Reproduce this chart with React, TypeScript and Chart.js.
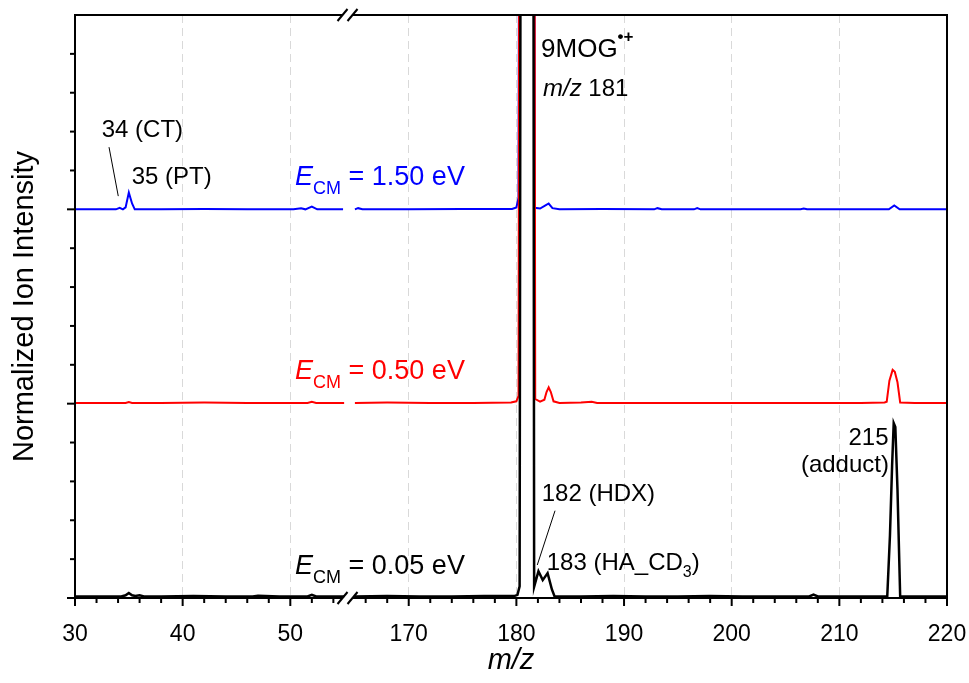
import React, { useEffect, useRef } from "react";
import { Chart, registerables } from "chart.js";

Chart.register(...registerables);

const FONT = '"Liberation Sans", Arial, Helvetica, sans-serif';

// broken x axis: 30–55 | 165–220
const BREAK_LO = 55;
const BREAK_HI = 165;
const BREAK_GAP = 1;
const X_MIN = 30;
const X_MAX = 220;
const Y_MIN = 0;
const Y_MAX = 15;

const X_MAJOR = [30, 40, 50, 170, 180, 190, 200, 210, 220];
const X_MINOR = [32, 34, 36, 38, 42, 44, 46, 48, 52, 54, 166, 168, 172, 174, 176, 178, 182, 184, 186, 188, 192, 194, 196, 198, 202, 204, 206, 208, 212, 214, 216, 218];
const Y_MAJOR = [0, 5, 10];
const Y_MINOR = [1, 2, 3, 4, 6, 7, 8, 9, 11, 12, 13, 14];

const ENERGIES = ["0.05", "0.50", "1.50"];
const OFFSETS = [0, 5, 10];
const COLORS = ["#000000", "#ff0000", "#0000ff"];
const WIDTHS = [2.5, 2, 2];

// E_CM = 0.05 eV
const MZ_005 = [30, 32, 34.3, 34.7, 35.0, 35.3, 35.6, 36.0, 36.4, 38, 41, 44, 46.5, 47, 49, 51.6, 52.0, 52.4, 55, 165, 168, 171, 174, 177, 179.8, 180.1, 180.3, 180.5, 181.5, 181.65, 182.05, 182.45, 182.9, 183.3, 183.55, 186, 189, 192, 195, 198, 201, 204, 207.2, 207.6, 208.0, 211, 214.45, 214.7, 214.9, 215.05, 215.2, 215.4, 215.65, 217, 220];
const INT_005 = [0.04, 0.04, 0.04, 0.07, 0.13, 0.07, 0.05, 0.07, 0.04, 0.04, 0.05, 0.04, 0.04, 0.06, 0.04, 0.04, 0.08, 0.04, 0.04, 0.04, 0.05, 0.04, 0.04, 0.05, 0.05, 0.08, 0.3, 40, 40, 0.29, 0.69, 0.46, 0.64, 0.22, 0.04, 0.04, 0.05, 0.04, 0.04, 0.05, 0.04, 0.04, 0.04, 0.09, 0.04, 0.04, 0.04, 1.6, 3.4, 4.5, 4.4, 2.8, 0.04, 0.04, 0.04];

// E_CM = 0.50 eV
const MZ_050 = [30, 33, 34.7, 35.0, 35.3, 38, 42, 46, 49, 51.6, 52.0, 52.4, 55, 165, 168, 172, 176, 179.5, 180.0, 180.2, 180.4, 181.55, 181.75, 182.2, 182.6, 182.8, 183.0, 183.2, 183.45, 184, 186, 187, 187.5, 189, 193, 197, 201, 205, 209, 212, 214.2, 214.4, 214.65, 214.95, 215.15, 215.4, 215.65, 217, 220];
const INT_050 = [0.02, 0.02, 0.02, 0.04, 0.02, 0.02, 0.03, 0.02, 0.02, 0.02, 0.05, 0.02, 0.02, 0.02, 0.03, 0.02, 0.02, 0.03, 0.06, 0.2, 40, 40, 0.12, 0.05, 0.1, 0.3, 0.42, 0.3, 0.06, 0.02, 0.03, 0.05, 0.02, 0.02, 0.02, 0.02, 0.02, 0.02, 0.02, 0.02, 0.03, 0.05, 0.59, 0.87, 0.82, 0.55, 0.03, 0.02, 0.02];

// E_CM = 1.50 eV
const MZ_150 = [30, 33.8, 34.15, 34.45, 34.7, 35.0, 35.3, 35.55, 38, 42, 46, 50.3, 51.0, 51.4, 52.0, 52.5, 54.9, 165, 165.3, 165.7, 170, 175, 179.6, 180.0, 180.2, 180.45, 181.55, 181.7, 182.2, 182.7, 183.0, 183.35, 184, 188, 192.8, 193.1, 193.5, 196.5, 196.8, 197.1, 201, 206.4, 206.7, 207.0, 211, 214.6, 215.1, 215.6, 220];
const INT_150 = [0, 0, 0.04, 0, 0.05, 0.43, 0.15, 0, 0, 0.01, 0, 0, 0.03, 0, 0.07, 0, 0, 0, 0.03, 0, 0, 0.01, 0.01, 0.05, 0.3, 40, 40, 0.04, 0.02, 0.1, 0.15, 0.03, 0, 0.01, 0, 0.03, 0, 0, 0.03, 0, 0, 0, 0.02, 0, 0, 0, 0.1, 0, 0];

const SERIES_MZ = [MZ_005, MZ_050, MZ_150];
const SERIES_INT = [INT_005, INT_050, INT_150];

// annotations (data coordinates: m/z, stacked intensity)
type Part = { t: string; size: number; italic?: boolean; bold?: boolean; dy?: number };
type Label = { mz: number; v: number; align?: "left" | "right"; color?: string; parts: Part[] };

const LABELS: Label[] = [
  { mz: 182.29, v: 13.92, parts: [{ t: "9MOG", size: 26 }, { t: "•+", size: 17, bold: true, dy: -15 }] },
  { mz: 182.47, v: 12.92, parts: [{ t: "m/z", size: 24, italic: true }, { t: " 181", size: 24 }] },
  { mz: 32.48, v: 11.86, parts: [{ t: "34 (CT)", size: 24 }] },
  { mz: 35.27, v: 10.64, parts: [{ t: "35 (PT)", size: 24 }] },
  { mz: 182.35, v: 2.5, parts: [{ t: "182 (HDX)", size: 24 }] },
  { mz: 182.82, v: 0.72, parts: [{ t: "183 (HA_CD", size: 24 }, { t: "3", size: 16, dy: 7 }, { t: ")", size: 24 }] },
  { mz: 214.57, v: 3.94, align: "right", parts: [{ t: "215", size: 24 }] },
  { mz: 214.61, v: 3.24, align: "right", parts: [{ t: "(adduct)", size: 24 }] },
];
const E_LABEL_MZ = 50.44;
const E_LABEL_DV = 0.63;

const LEADERS = [
  { from: [33.16, 11.6], to: [34.02, 10.34] },
  { from: [183.59, 2.246], to: [181.94, 0.849] },
];

const tx = (mz: number) => (mz <= BREAK_LO ? mz : mz - (BREAK_HI - BREAK_LO) + BREAK_GAP);

function buildData(mzs: number[], vals: number[], offset: number) {
  const out: { x: number; y: number | null }[] = [];
  for (let i = 0; i < mzs.length; i++) {
    if (i > 0 && mzs[i - 1] <= BREAK_LO && mzs[i] >= BREAK_HI) {
      out.push({ x: tx(BREAK_LO) + BREAK_GAP / 2, y: null });
    }
    out.push({ x: tx(mzs[i]), y: vals[i] + offset });
  }
  return out;
}

function fontOf(p: Part) {
  return `${p.italic ? "italic " : ""}${p.bold ? "bold " : ""}${p.size}px ${FONT}`;
}

function drawRich(ctx: CanvasRenderingContext2D, x: number, y: number, parts: Part[], align: string, color: string) {
  const widths = parts.map((p) => {
    ctx.font = fontOf(p);
    return ctx.measureText(p.t).width;
  });
  const total = widths.reduce((a, b) => a + b, 0);
  let cx = align === "right" ? x - total : x;
  ctx.fillStyle = color;
  ctx.textAlign = "left";
  ctx.textBaseline = "alphabetic";
  parts.forEach((p, i) => {
    ctx.font = fontOf(p);
    ctx.fillText(p.t, cx, y + (p.dy || 0));
    cx += widths[i];
  });
}

const framePlugin = {
  id: "frame",
  afterDraw(chart: any) {
    const { ctx, chartArea: a, scales } = chart;
    const xs = scales.x;
    const ys = scales.y;
    const px = (mz: number) => xs.getPixelForValue(tx(mz));
    const py = (v: number) => ys.getPixelForValue(v);
    const seg = (x1: number, y1: number, x2: number, y2: number) => {
      ctx.beginPath();
      ctx.moveTo(x1, y1);
      ctx.lineTo(x2, y2);
      ctx.stroke();
    };
    ctx.save();
    ctx.strokeStyle = "#000";
    ctx.lineWidth = 2;
    ctx.lineCap = "butt";
    const bc = (px(BREAK_LO) + px(BREAK_HI)) / 2 - 2;
    // frame with break
    for (const yy of [a.top, a.bottom]) {
      seg(a.left - 1, yy, bc - 5, yy);
      seg(bc + 5, yy, a.right + 1, yy);
      for (const d of [-5, 5]) seg(bc + d - 5, yy + 6, bc + d + 5, yy - 6);
    }
    seg(a.left, a.top, a.left, a.bottom);
    seg(a.right, a.top, a.right, a.bottom);
    // x ticks
    for (const m of X_MAJOR) seg(px(m), a.bottom, px(m), a.bottom + 8);
    for (const m of X_MINOR) seg(px(m), a.bottom, px(m), a.bottom + 5);
    // y ticks
    for (const v of Y_MAJOR) seg(a.left - 8, py(v), a.left, py(v));
    for (const v of Y_MINOR) seg(a.left - 5, py(v), a.left, py(v));
    // leaders
    ctx.lineWidth = 1;
    for (const l of LEADERS) seg(px(l.from[0]), py(l.from[1]), px(l.to[0]), py(l.to[1]));
    // labels
    for (const l of LABELS) drawRich(ctx, px(l.mz), py(l.v), l.parts, l.align || "left", l.color || "#000");
    ENERGIES.forEach((e, i) => {
      drawRich(
        ctx,
        px(E_LABEL_MZ),
        py(OFFSETS[i] + E_LABEL_DV),
        [
          { t: "E", size: 27, italic: true },
          { t: "CM", size: 18, dy: 9 },
          { t: ` = ${e} eV`, size: 27 },
        ],
        "left",
        COLORS[i]
      );
    });
    ctx.restore();
  },
};

export default function App() {
  const ref = useRef<HTMLCanvasElement | null>(null);
  useEffect(() => {
    if (!ref.current) return;
    Chart.defaults.font.family = FONT;
    Chart.defaults.color = "#000";
    const datasets = SERIES_MZ.map((mzs, i) => ({
      label: `E_CM = ${ENERGIES[i]} eV`,
      data: buildData(mzs, SERIES_INT[i], OFFSETS[i]),
      borderColor: COLORS[i],
      backgroundColor: COLORS[i],
      borderWidth: WIDTHS[i],
      pointRadius: 0,
      tension: 0,
      spanGaps: false,
    }));
    const majorT = X_MAJOR.map(tx);
    const chart = new Chart(ref.current, {
      type: "line",
      data: { datasets },
      plugins: [framePlugin],
      options: {
        animation: false,
        responsive: false,
        devicePixelRatio: 1,
        layout: { padding: { top: 15, right: 22, left: 0, bottom: 0 } },
        plugins: { legend: { display: false }, tooltip: { enabled: false } },
        scales: {
          x: {
            type: "linear",
            min: tx(X_MIN),
            max: tx(X_MAX),
            afterBuildTicks: (s: any) => {
              s.ticks = majorT.map((v) => ({ value: v }));
            },
            afterFit: (s: any) => {
              s.height = 85;
              s.paddingLeft = 0;
              s.paddingRight = 0;
            },
            ticks: {
              autoSkip: false,
              maxRotation: 0,
              padding: 23,
              font: { size: 23, family: FONT },
              color: "#000",
              callback: (v: any) => {
                const i = majorT.findIndex((t) => Math.abs(t - Number(v)) < 1e-6);
                return i >= 0 ? String(X_MAJOR[i]) : "";
              },
            },
            grid: {
              drawTicks: false,
              lineWidth: 1,
              color: (c: any) => {
                const v = c.tick ? c.tick.value : NaN;
                return v === tx(X_MIN) || v === tx(X_MAX) ? "rgba(0,0,0,0)" : "#d9d9d9";
              },
            },
            border: { display: false, dash: [8, 5] },
            title: {
              display: true,
              text: "m/z",
              font: { size: 29, style: "italic", family: FONT },
              color: "#000",
              padding: { top: 0, bottom: 5 },
            },
          },
          y: {
            type: "linear",
            min: Y_MIN,
            max: Y_MAX,
            afterFit: (s: any) => {
              s.width = 75;
            },
            ticks: { display: false },
            grid: { display: false },
            border: { display: false },
            title: {
              display: true,
              text: "Normalized Ion Intensity",
              font: { size: 29, family: FONT },
              color: "#000",
              padding: { top: 8, bottom: 0 },
            },
          },
        },
      },
    } as any);
    return () => chart.destroy();
  }, []);
  return (
    <div style={{ position: "absolute", left: 0, top: 0, width: 969, height: 683, background: "#fff" }}>
      <canvas ref={ref} width={969} height={683} />
    </div>
  );
}
